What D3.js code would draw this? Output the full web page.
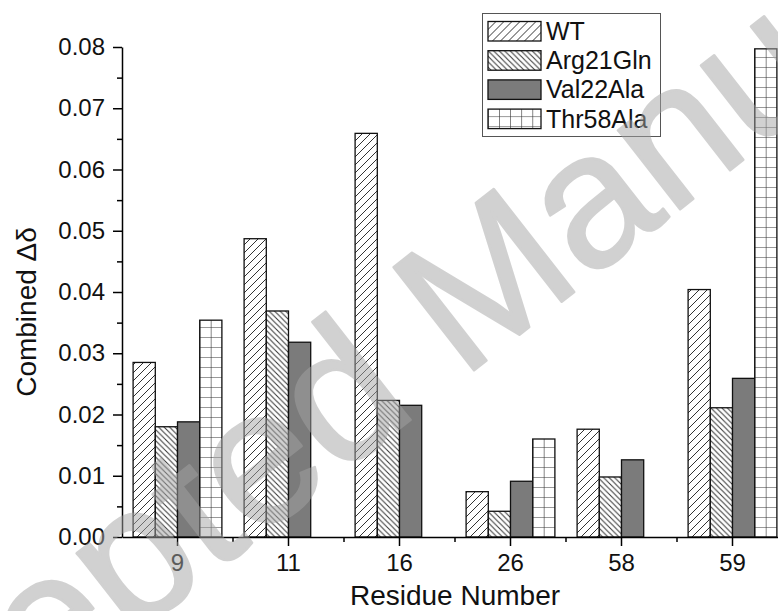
<!DOCTYPE html>
<html>
<head>
<meta charset="utf-8">
<title>Combined shift</title>
<script src="https://d3js.org/d3.v7.min.js"></script>
<style>
  body { margin: 0; background: #fff; }
  svg { font-family: "Liberation Sans", Arial, sans-serif; }
</style>
</head>
<body>
<svg width="778" height="611"></svg>
<script>
// data
var residues = ["9", "11", "16", "26", "58", "59"];
var series = ["WT", "Arg21Gln", "Val22Ala", "Thr58Ala"];
var wt       = [0.0285, 0.0487, 0.0659, 0.0074, 0.0176, 0.0404];
var arg21gln = [0.0180, 0.0369, 0.0223, 0.0042, 0.0098, 0.0211];
var val22ala = [0.0188, 0.0318, 0.0215, 0.0091, 0.0126, 0.0259];
var thr58ala = [0.0354, null,   null,   0.0160, null,   0.0797];
var yTicks = [0, 0.01, 0.02, 0.03, 0.04, 0.05, 0.06, 0.07, 0.08];
var yMinor = [0.005, 0.015, 0.025, 0.035, 0.045, 0.055, 0.065, 0.075];

var values = [wt, arg21gln, val22ala, thr58ala];
var fills = ["url(#hWT)", "url(#hArg)", "#7b7b7b", "url(#hThr)"];

var svg = d3.select("svg");

var x = d3.scaleBand().domain(residues).range([122, 788]).padding(0);
var xs = d3.scaleBand().domain(series).range([0, x.bandwidth()]).paddingOuter(0.5);
var y = d3.scaleLinear().domain([0, 0.08]).range([537, 47]);

// hatch patterns
var defs = svg.append("defs");
var p1 = defs.append("pattern").attr("id", "hWT").attr("patternUnits", "userSpaceOnUse")
  .attr("width", 8).attr("height", 8);
p1.append("rect").attr("width", 8).attr("height", 8).attr("fill", "#fff");
p1.append("path").attr("d", "M0,8L8,0M-2,2L2,-2M6,10L10,6")
  .attr("stroke", "#333").attr("stroke-width", 1);

var p2 = defs.append("pattern").attr("id", "hArg").attr("patternUnits", "userSpaceOnUse")
  .attr("width", 5.5).attr("height", 5.5);
p2.append("rect").attr("width", 5.5).attr("height", 5.5).attr("fill", "#fff");
p2.append("path").attr("d", "M0,0L5.5,5.5M-2.75,2.75L2.75,8.25M2.75,-2.75L8.25,2.75")
  .attr("stroke", "#333").attr("stroke-width", 1);

var cell = xs.bandwidth() / 2;
var p3 = defs.append("pattern").attr("id", "hThr").attr("patternUnits", "userSpaceOnUse")
  .attr("x", x(residues[0]) + xs("Thr58Ala")).attr("y", y(0))
  .attr("width", cell).attr("height", 10);
p3.append("rect").attr("width", cell).attr("height", 10).attr("fill", "#fff");
p3.append("path").attr("d", "M0,0H" + cell + "M0,0V10")
  .attr("stroke", "#333").attr("stroke-width", 1.2);

// bars
var groups = svg.append("g").selectAll("g")
  .data(residues)
  .enter()
    .append("g")
    .attr("transform", function (d) { return "translate(" + x(d) + ",0)"; });

groups.selectAll("rect")
  .data(function (d, i) {
    return series.map(function (s, k) { return { s: s, k: k, v: values[k][i] }; })
      .filter(function (e) { return e.v != null; });
  })
  .enter()
    .append("rect")
    .attr("x", function (e) { return xs(e.s); })
    .attr("y", function (e) { return y(e.v); })
    .attr("width", xs.bandwidth())
    .attr("height", function (e) { return y(0) - y(e.v); })
    .attr("fill", function (e) { return fills[e.k]; })
    .attr("stroke", "#111")
    .attr("stroke-width", 1.3);

// axes
var yAxis = svg.append("g").attr("transform", "translate(122,0)")
  .call(d3.axisLeft(y).tickValues(yTicks).tickSize(9).tickSizeOuter(0)
    .tickPadding(8).tickFormat(d3.format(".2f")));
var yAxisMinor = svg.append("g").attr("transform", "translate(122,0)")
  .call(d3.axisLeft(y).tickValues(yMinor).tickSize(5).tickFormat(""));
yAxisMinor.select(".domain").remove();

var xAxis = svg.append("g").attr("transform", "translate(0,537)")
  .call(d3.axisBottom(x).tickSize(9).tickSizeOuter(0).tickPadding(8));

svg.append("g").selectAll("line")
  .data(residues.slice(1))
  .enter()
    .append("line")
    .attr("x1", function (d) { return x(d); })
    .attr("x2", function (d) { return x(d); })
    .attr("y1", 537).attr("y2", 542)
    .attr("stroke", "#000").attr("stroke-width", 1.5);

svg.selectAll(".domain, .tick line").attr("stroke", "#000").attr("stroke-width", 1.5);
svg.selectAll(".tick text").attr("font-size", 24).attr("fill", "#111")
  .attr("font-family", "Liberation Sans, Arial, sans-serif");

// titles
svg.append("text")
  .attr("x", 455).attr("y", 605)
  .attr("text-anchor", "middle").attr("font-size", 28).attr("fill", "#111")
  .text("Residue Number");

svg.append("text")
  .attr("transform", "translate(36,312) rotate(-90)")
  .attr("text-anchor", "middle").attr("font-size", 28).attr("fill", "#111")
  .text("Combined \u0394\u03b4");

// legend
var legend = svg.append("g");
legend.append("rect")
  .attr("x", 482.5).attr("y", 13.5).attr("width", 178).attr("height", 123)
  .attr("fill", "#fff").attr("stroke", "#555").attr("stroke-width", 1);

var items = legend.selectAll("g.item")
  .data(series)
  .enter()
    .append("g")
    .attr("class", "item")
    .attr("transform", function (d, i) { return "translate(488," + (21.5 + i * 29.2) + ")"; });

items.append("rect")
  .attr("width", 53).attr("height", 19.5)
  .attr("fill", function (d, i) { return fills[i]; })
  .attr("stroke", "#111").attr("stroke-width", 1.3);

items.append("text")
  .attr("x", 58).attr("y", 18.5)
  .attr("font-size", 25).attr("fill", "#111")
  .text(function (d) { return d; });

// watermark
svg.append("text")
  .attr("transform", "translate(-204,900) rotate(-38)")
  .attr("font-size", 190)
  .attr("fill", "#a4a4a4")
  .attr("stroke", "#a4a4a4")
  .attr("stroke-width", 2.5)
  .attr("stroke-linejoin", "round")
  .attr("opacity", 0.5)
  .text("Accepted Manuscript");
</script>
</body>
</html>
